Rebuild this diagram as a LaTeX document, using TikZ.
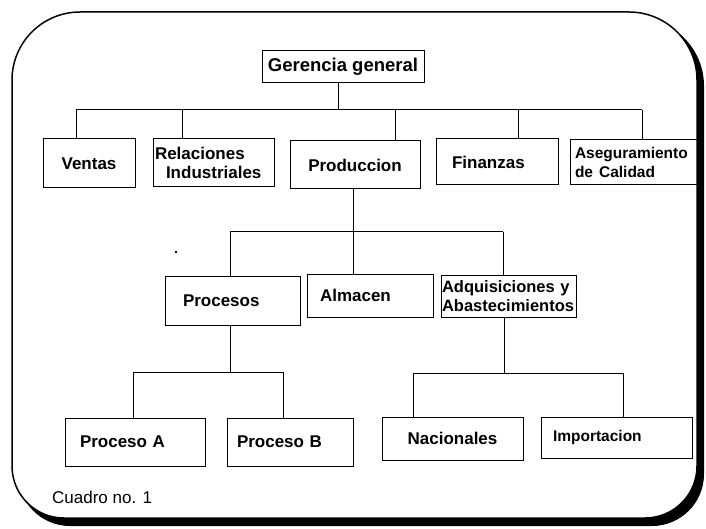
\documentclass[tikz,border=0pt]{standalone}
\usepackage{fontspec}
\setmainfont{Liberation Sans}

% outline of the card: left, bottom, right, top, top radius, bottom radius
\newcommand\cardoutline[6]{%
  (#1,#2+#6) -- (#1,#4-#5)
  arc[start angle=180, end angle=90, radius=#5pt] -- (#3-#5,#4)
  arc[start angle=90, end angle=0, radius=#5pt] -- (#3,#2+#6)
  arc[start angle=0, end angle=-90, radius=#6pt] -- (#1+#6,#2)
  arc[start angle=270, end angle=180, radius=#6pt] -- cycle}

\newcommand\orgfont{\bfseries\fontsize{17}{19.5}\selectfont}

\tikzset{
  orgbox/.style={draw, line width=1pt, inner ysep=0pt, font=\orgfont},
  padbox/.style 2 args={orgbox, minimum width=#1, text width=#2, align=left},
  link/.style={line width=1pt},
}

\begin{document}
\begin{tikzpicture}[x=1pt, y=1pt]
  \fill[white] (0,0) rectangle (706,528);
  \useasboundingbox (0,0) rectangle (706,528);

  % card with its drop shadow
  \fill[black] \cardoutline{18}{2}{704}{510}{68}{52};
  \filldraw[fill=white, draw=black, line width=1.5pt] \cardoutline{12}{10}{697}{516}{68}{52};

  % top level
  \node[orgbox, minimum width=162pt, minimum height=32pt,
        font=\bfseries\fontsize{18.5}{20}\selectfont] (ger) at (343,461) {Gerencia general};

  % departments
  \node[orgbox, minimum width=92pt, minimum height=49pt] (ven) at (89,364.5) {Ventas};
  \node[padbox={121pt}{117pt}, inner xsep=2pt, minimum height=48pt] (rel) at (213.5,365)
    {Relaciones\\\hspace*{11pt}Industriales};
  \node[orgbox, minimum width=130pt, minimum height=48pt] (pro) at (355,363) {Produccion};
  \node[padbox={122pt}{90pt}, inner xsep=16pt, minimum height=46pt] (fin) at (497,366) {Finanzas};
  \node[padbox={127pt}{117pt}, inner xsep=5pt, minimum height=45pt,
        font=\bfseries\fontsize{15.5}{19}\selectfont] (ase) at (633.5,365.5)
    {Aseguramiento\\de\hspace{6pt}Calidad};

  % production areas
  \node[padbox={135pt}{99pt}, inner xsep=18pt, minimum height=49pt] (prc) at (232.5,227.5) {Procesos};
  \node[padbox={126pt}{100pt}, inner xsep=13pt, minimum height=43pt] (alm) at (370,232.5) {Almacen};
  \node[padbox={135pt}{133pt}, inner xsep=1pt, minimum height=42pt,
        font=\bfseries\fontsize{16.5}{19}\selectfont] (adq) at (508.5,232)
    {Adquisiciones y\\Abastecimientos};

  % third level
  \node[padbox={140pt}{110pt}, inner xsep=15pt, minimum height=48pt] (pa) at (135,86) {Proceso A};
  \node[padbox={126pt}{106pt}, inner xsep=10pt, minimum height=48pt] (pb) at (290,86) {Proceso B};
  \node[orgbox, minimum width=141pt, minimum height=43pt] (nac) at (452.5,89.5) {Nacionales};
  \node[padbox={151pt}{127pt}, inner xsep=12pt, minimum height=41pt,
        font=\bfseries\fontsize{15.5}{18}\selectfont] (imp) at (616.5,90.5) {Importacion};

  % junction points of the connector buses
  \coordinate (t0) at (338,418);
  \coordinate (tL) at (76,418);
  \coordinate (t1) at (182,418);
  \coordinate (t3) at (395,418);
  \coordinate (t4) at (518,418);
  \coordinate (tR) at (642,418);

  \coordinate (m0) at (353,296);
  \coordinate (mL) at (230,296);
  \coordinate (mR) at (503,296);

  \coordinate (l0) at (230,156);
  \coordinate (lL) at (133,156);
  \coordinate (lR) at (283,156);

  \coordinate (r0) at (504,155);
  \coordinate (rL) at (413,155);
  \coordinate (rR) at (623,155);

  % connectors
  \draw[link] (ger.south -| t0) -- (t0);
  \draw[link] (tL) -- (tR);
  \draw[link] (tL) -- (ven.north -| tL);
  \draw[link] (t1) -- (rel.north -| t1);
  \draw[link] (t3) -- (pro.north -| t3);
  \draw[link] (t4) -- (fin.north -| t4);
  \draw[link] (tR) -- (ase.north -| tR);

  \draw[link] (pro.south -| m0) -- (m0);
  \draw[link] (mL) -- (mR);
  \draw[link] (mL) -- (prc.north -| mL);
  \draw[link] (m0) -- (alm.north -| m0);
  \draw[link] (mR) -- (adq.north -| mR);

  \draw[link] (prc.south -| l0) -- (l0);
  \draw[link] (lL) -- (lR);
  \draw[link] (lL) -- (pa.north -| lL);
  \draw[link] (lR) -- (pb.north -| lR);

  \draw[link] (adq.south -| r0) -- (r0);
  \draw[link] (rL) -- (rR);
  \draw[link] (rL) -- (nac.north -| rL);
  \draw[link] (rR) -- (imp.north -| rR);

  % stray mark
  \fill (176,276) circle[radius=1.3pt];

  % caption
  \node[anchor=west, inner sep=0pt, font=\fontsize{17}{20}\selectfont] (cap) at (52,31) {Cuadro no. 1};
\end{tikzpicture}
\end{document}
